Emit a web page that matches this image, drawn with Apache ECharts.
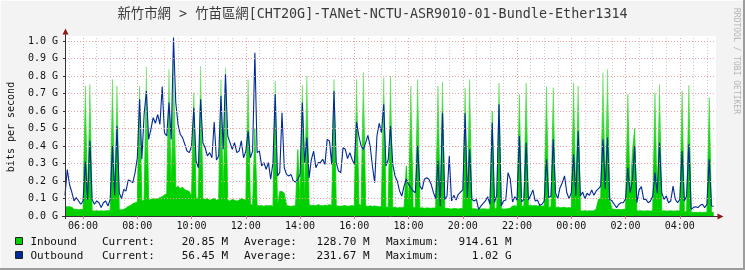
<!DOCTYPE html>
<html><head><meta charset="utf-8">
<script src="https://cdn.jsdelivr.net/npm/echarts@6/dist/echarts.min.js"></script>
<style>html,body{margin:0;padding:0;background:#f3f3f3}#c{width:745px;height:270px}</style>
</head><body><div id="c"></div>
<script>
// ---- data ----
const titleText = '新竹市網 > 竹苗區網[CHT20G]-TANet-NCTU-ASR9010-01-Bundle-Ether1314';
const startMinute = 320;   // 05:20
const stepMinutes = 5;
const endMinute = 1760;

const inbound = [
.053,.053,.053,.05,.038,.038,.036,.038,.035,.743,.03,.752,
.03,.028,.03,.028,.03,.028,.03,.03,.032,.78,.032,.743,
.035,.035,.038,.045,.055,.06,.07,.075,.08,.743,.085,.09,
.853,.09,.095,.10,.095,.10,.105,.11,.12,.125,.838,.13,
.915,.16,.17,.155,.165,.15,.145,.14,.11,.705,.10,.105,
.857,.10,.095,.10,.09,.095,.10,.09,.095,.78,.09,.848,
.09,.085,.095,.09,.085,.09,.10,.095,.09,.78,.07,.06,
.50,.06,.058,.06,.055,.06,.058,.06,.055,.771,.06,.14,
.14,.13,.06,.057,.055,.057,.06,.38,.06,.747,.06,.80,
.065,.06,.062,.058,.065,.06,.058,.062,.06,.065,.06,.78,
.058,.057,.055,.058,.06,.055,.057,.06,.055,.78,.07,.06,
.82,.057,.055,.058,.055,.057,.055,.052,.055,.79,.05,.052,
.80,.048,.05,.046,.048,.047,.05,.286,.048,.743,.047,.05,
.78,.045,.047,.044,.046,.045,.044,.046,.045,.743,.043,.766,
.042,.044,.042,.04,.043,.042,.04,.043,.042,.733,.04,.78,
.04,.042,.04,.038,.04,.041,.04,.039,.04,.60,.04,.045,
.76,.042,.04,.04,.042,.045,.057,.058,.055,.695,.057,.055,
.76,.06,.062,.058,.06,.057,.06,.055,.058,.739,.05,.052,
.733,.048,.05,.047,.048,.05,.046,.048,.045,.762,.035,.743,
.03,.029,.03,.028,.03,.029,.03,.04,.095,.10,.82,.105,
.838,.09,.04,.038,.037,.038,.036,.038,.04,.695,.095,.362,
.50,.03,.029,.03,.028,.029,.03,.028,.03,.705,.03,.752,
.029,.03,.028,.029,.03,.028,.029,.03,.028,.714,.025,.025,
.747,.022,.02,.021,.02,.022,.02,.021,.02,.676,.02,.021
];

const outbound = [
.118,.265,.18,.137,.086,.105,.086,.067,.086,.31,.095,.43,
.095,.067,.086,.076,.048,.076,.086,.057,.095,.40,.118,.514,
.133,.10,.152,.143,.206,.20,.19,.248,.333,.667,.324,.58,
.714,.438,.495,.562,.53,.58,.524,.74,.476,.457,.648,.438,
1.02,.648,.524,.467,.448,.41,.371,.362,.40,.619,.314,.276,
.667,.419,.39,.343,.362,.333,.537,.32,.343,.686,.381,.81,
.457,.419,.381,.419,.362,.371,.429,.333,.371,.486,.333,.371,
.933,.362,.371,.286,.305,.267,.305,.21,.305,.695,.229,.248,
.59,.276,.238,.229,.238,.20,.194,.21,.238,.648,.305,.448,
.219,.324,.371,.276,.305,.305,.324,.295,.438,.429,.295,.714,
.305,.257,.248,.39,.381,.328,.362,.324,.295,.537,.457,.40,
.381,.419,.461,.40,.286,.19,.457,.53,.476,.638,.286,.324,
.514,.295,.229,.20,.143,.114,.171,.21,.181,.162,.143,.133,
.40,.171,.152,.21,.219,.21,.181,.133,.099,.314,.057,.59,
.095,.114,.343,.086,.118,.091,.124,.137,.149,.587,.105,.381,
.095,.086,.095,.038,.057,.072,.086,.11,.067,.533,.076,.12,
.638,.057,.086,.091,.248,.21,.08,.11,.091,.457,.08,.095,
.419,.091,.118,.149,.086,.091,.061,.067,.086,.324,.105,.114,
.438,.133,.099,.162,.19,.229,.133,.099,.133,.352,.114,.486,
.114,.137,.099,.13,.118,.149,.118,.143,.156,.171,.438,.156,
.448,.095,.086,.067,.048,.067,.076,.076,.099,.276,.133,.20,
.40,.076,.149,.168,.095,.095,.076,.086,.114,.248,.13,.419,
.133,.095,.114,.076,.086,.171,.095,.076,.095,.371,.086,.114,
.41,.038,.048,.053,.048,.061,.067,.048,.067,.324,.057,.056
];

const xTickMinutes = [360,480,600,720,840,960,1080,1200,1320,1440,1560,1680];
const xTickLabels = ['06:00','08:00','10:00','12:00','14:00','16:00','18:00','20:00','22:00','00:00','02:00','04:00'];
const yMax = 1.02857;
const yInterval = 0.1;

const legendNames = ['Inbound', 'Outbound'];
const legendCurrent = ['20.85 M', '56.45 M'];
const legendAverage = ['128.70 M', '231.67 M'];
const legendMaximum = ['914.61 M', '1.02 G'];
const seriesColors = ['#00CF00', '#002A97'];

// ---- build ----
const toPoints = arr => arr.map((v, i) => [startMinute + i * stepMinutes, v]);
const minorMinutes = [];
for (let m = startMinute + 10; m < endMinute; m += 30) if (xTickMinutes.indexOf(m) < 0) minorMinutes.push(m);

const mono = '"DejaVu Sans Mono", monospace';
const gridLeft = 65, gridTop = 36, gridW = 651, gridH = 180;

const greenFade = {type:'linear', x:0, y:gridTop, x2:0, y2:gridTop + gridH, global:true, colorStops:[
  {offset:0, color:'rgba(0,207,0,0.18)'},
  {offset:0.3, color:'rgba(0,207,0,0.45)'},
  {offset:0.55, color:'rgba(0,207,0,0.8)'},
  {offset:0.75, color:'rgba(0,207,0,1)'},
  {offset:1, color:'rgba(0,207,0,1)'}
]};

const legendGraphics = [];
legendNames.forEach((name, r) => {
  const cy = 242 + r * 14;
  legendGraphics.push({type:'rect', shape:{x:15.5, y:cy - 4.5, width:7, height:7}, style:{fill:seriesColors[r], stroke:'#222', lineWidth:1}, silent:true});
  const t = (txt, x, align) => ({type:'text', x, y:cy, silent:true,
    style:{text:txt, fill:'#111', font:'11px ' + mono, align:align, verticalAlign:'middle', textAlign:align, textVerticalAlign:'middle'}});
  legendGraphics.push(t(name, 30.5, 'left'));
  legendGraphics.push(t('Current:', 102, 'left'));
  legendGraphics.push(t(legendCurrent[r], 228, 'right'));
  legendGraphics.push(t('Average:', 244, 'left'));
  legendGraphics.push(t(legendAverage[r], 369.5, 'right'));
  legendGraphics.push(t('Maximum:', 386, 'left'));
  legendGraphics.push(t(legendMaximum[r], 511.5, 'right'));
});

const chart = echarts.init(document.getElementById('c'), null, {renderer:'canvas'});
chart.setOption({
  animation: false,
  backgroundColor: '#f3f3f3',
  grid: {left:gridLeft, top:gridTop, width:gridW, height:gridH, show:true, backgroundColor:'#ffffff', borderWidth:0},
  xAxis: {
    type:'value', min:startMinute, max:endMinute, z:10,
    axisLine:{show:true, lineStyle:{color:'#333', width:1}},
    axisTick:{show:true, customValues:xTickMinutes, length:3, lineStyle:{color:'#e07070'}},
    axisLabel:{customValues:xTickMinutes, formatter: v => { const k = xTickMinutes.indexOf(v); return k >= 0 ? xTickLabels[k] : ''; },
      fontFamily:mono, fontSize:10, color:'#111', margin:5},
    splitLine:{show:false}
  },
  yAxis: {
    type:'value', min:0, max:yMax, interval:yInterval, z:10,
    axisLine:{show:true, lineStyle:{color:'#333', width:1}},
    axisTick:{show:true, length:2, lineStyle:{color:'#333'}},
    axisLabel:{formatter: v => v.toFixed(1) + ' G', showMaxLabel:false, fontFamily:mono, fontSize:10, color:'#111', margin:7},
    splitLine:{show:true, showMinLine:false, showMaxLine:false, lineStyle:{color:'#eea0a0', width:1, type:[1,2]}}
  },
  series: [
    {
      type:'line', data:toPoints(inbound), z:1, silent:true, showSymbol:false, symbol:'none',
      lineStyle:{opacity:0},
      markLine:{silent:true, z:1, symbol:['none','none'], label:{show:false}, animation:false,
        data: minorMinutes.map(m => ({xAxis:m, lineStyle:{color:'#cccccc', width:1, type:[1,2]}}))
          .concat(xTickMinutes.map(m => ({xAxis:m, lineStyle:{color:'#eea0a0', width:1, type:[1,2]}})))}
    },
    {
      name:'Inbound', type:'line', data:toPoints(inbound), z:2, silent:true, showSymbol:false, symbol:'none',
      lineStyle:{color:greenFade, width:0.8}, areaStyle:{color:greenFade, opacity:1}
    },
    {
      name:'Outbound', type:'line', data:toPoints(outbound), z:3, silent:true, showSymbol:false, symbol:'none',
      lineStyle:{color:seriesColors[1], width:1.1}
    }
  ],
  graphic: [
    {type:'rect', shape:{x:0, y:0, width:745, height:1}, style:{fill:'#fcfcfc'}, silent:true},
    {type:'rect', shape:{x:0, y:0, width:1, height:270}, style:{fill:'#fcfcfc'}, silent:true},
    {type:'rect', shape:{x:743, y:0, width:2, height:270}, style:{fill:'#9c9c9c'}, silent:true},
    {type:'rect', shape:{x:0, y:268, width:745, height:2}, style:{fill:'#9c9c9c'}, silent:true},
    {type:'text', x:372.5, y:15, silent:true,
      style:{text:titleText, fill:'#3a3a3a', font:'13.4px "DejaVu Sans Mono", "Noto Sans CJK TC", monospace', align:'center', verticalAlign:'middle', textAlign:'center', textVerticalAlign:'middle'}},
    {type:'text', x:11, y:127, rotation:Math.PI/2, silent:true,
      style:{text:'bits per second', fill:'#111', font:'10px ' + mono, align:'center', verticalAlign:'middle', textAlign:'center', textVerticalAlign:'middle'}},
    {type:'text', x:736.5, y:61, rotation:-Math.PI/2, silent:true,
      style:{text:'RRDTOOL / TOBI OETIKER', fill:'#b4b4b4', font:'8px ' + mono, align:'center', verticalAlign:'middle', textAlign:'center', textVerticalAlign:'middle'}},
    // axis extensions and arrows
    {type:'line', shape:{x1:65.5, y1:36, x2:65.5, y2:32}, style:{stroke:'#333', lineWidth:1}, silent:true, z:20},
    {type:'line', shape:{x1:65.5, y1:216, x2:65.5, y2:219}, style:{stroke:'#333', lineWidth:1}, silent:true, z:20},
    {type:'line', shape:{x1:62, y1:216.5, x2:65, y2:216.5}, style:{stroke:'#333', lineWidth:1}, silent:true, z:20},
    {type:'line', shape:{x1:716, y1:216.5, x2:719, y2:216.5}, style:{stroke:'#333', lineWidth:1}, silent:true, z:20},
    {type:'polygon', shape:{points:[[65.5,28.5],[62.5,34.5],[68.5,34.5]]}, style:{fill:'#8b1a1a'}, silent:true, z:20},
    {type:'polygon', shape:{points:[[723.5,216.5],[717.5,213.5],[717.5,219.5]]}, style:{fill:'#8b1a1a'}, silent:true, z:20}
  ].concat(legendGraphics)
});
</script></body></html>
